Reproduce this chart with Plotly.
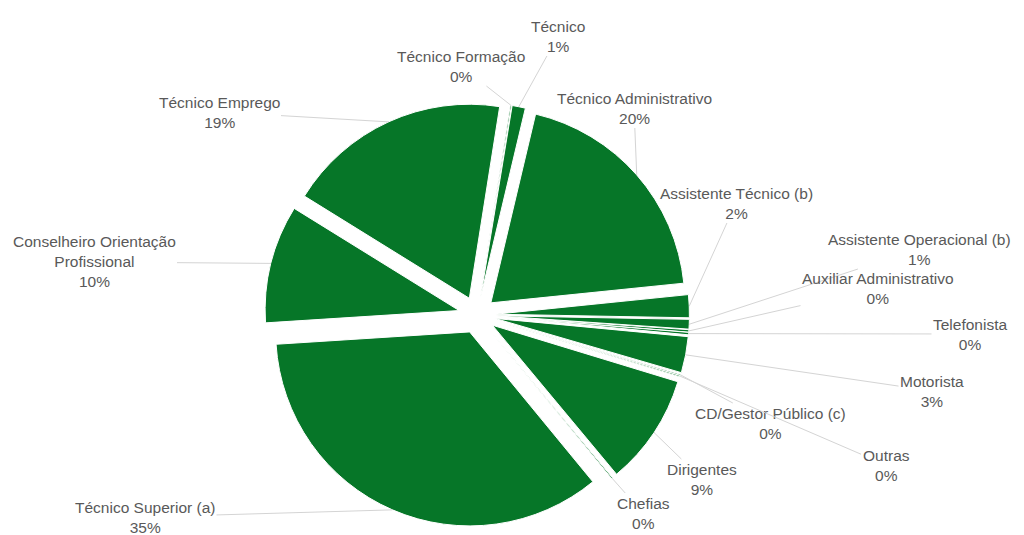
import math
import plotly.graph_objects as go

# Staff distribution by career group
labels = [
    "Técnico Formação",
    "Técnico",
    "Técnico Administrativo",
    "Assistente Técnico (b)",
    "Assistente Operacional (b)",
    "Auxiliar Administrativo",
    "Telefonista",
    "Motorista",
    "CD/Gestor Público (c)",
    "Outras",
    "Dirigentes",
    "Chefias",
    "Técnico Superior (a)",
    "Conselheiro Orientação<br>Profissional",
    "Técnico Emprego",
]
values = [1, 11, 196, 19, 8, 2, 2, 30, 1, 1, 92, 1, 348, 98, 186]

# Label centres (pixels from top-left of the page)
label_x = [461, 558, 634, 736, 919, 878, 970, 932, 770, 886, 702, 643, 145, 94, 219]
label_y = [66, 36, 108, 203, 249, 288, 334, 391, 423, 465, 479, 513, 517, 262, 112]

W, H = 1024, 535
CX, CY = 477, 315          # pie centre in pixels
R = 194                    # slice radius in pixels
PULL = 0.095               # explode fraction for every slice
ROTATION = 9               # start angle, degrees clockwise from 12 o'clock
GREEN = "#067628"
TEXT_GREY = "#595959"
LINE_GREY = "#d4d4d4"

n = len(values)
total = sum(values)
half = R * (1 + PULL)

fig = go.Figure(
    go.Pie(
        labels=[l.replace("<br>", " ") for l in labels],
        values=values,
        sort=False,
        direction="clockwise",
        rotation=ROTATION,
        pull=[PULL] * n,
        marker=dict(colors=[GREEN] * n, line=dict(color="white", width=1)),
        textinfo="none",
        hoverinfo="label+percent",
        showlegend=False,
        domain=dict(
            x=[(CX - half) / W, (CX + half) / W],
            y=[1 - (CY + half) / H, 1 - (CY - half) / H],
        ),
    )
)

# Outside labels with leader lines to the middle of each exploded slice
annotations = []
cum = 0.0
for lab, v, tx, ty in zip(labels, values, label_x, label_y):
    mid = math.radians(ROTATION + 360.0 * (cum + v / 2) / total)
    cum += v
    hx = CX + half * math.sin(mid)
    hy = CY - half * math.cos(mid)
    pct = round(100 * v / total)
    annotations.append(
        dict(
            x=hx / W,
            y=1 - hy / H,
            xref="paper",
            yref="paper",
            ax=tx - hx,
            ay=ty - hy,
            axref="pixel",
            ayref="pixel",
            text=f"{lab}<br>{pct}%",
            showarrow=True,
            arrowhead=0,
            arrowwidth=1,
            arrowcolor=LINE_GREY,
            standoff=0,
            align="center",
            font=dict(family="Liberation Sans, Arial, sans-serif", size=15.5, color=TEXT_GREY),
        )
    )

fig.update_layout(
    width=W,
    height=H,
    margin=dict(l=0, r=0, t=0, b=0),
    paper_bgcolor="white",
    plot_bgcolor="white",
    annotations=annotations,
)

fig.write_html("out.html")
